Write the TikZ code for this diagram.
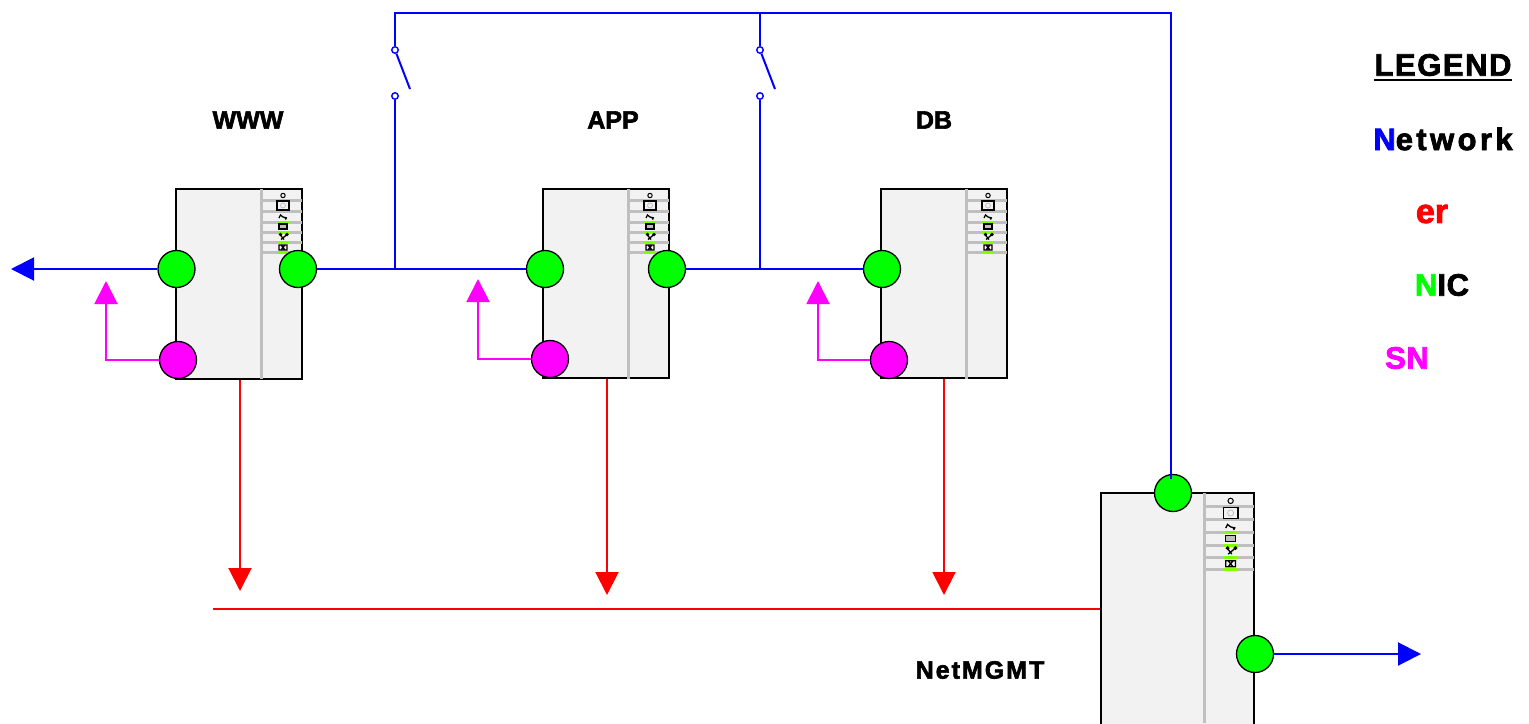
\documentclass[tikz,border=0pt]{standalone}
\usepackage{fontspec}
\newfontfamily\lblfont[FakeBold=2.4]{Liberation Sans Bold}
\usepackage{tikz}
\usetikzlibrary{arrows.meta}
\definecolor{nicgreen}{RGB}{0,255,0}
\definecolor{ledgreen}{RGB}{128,255,0}
\definecolor{snmagenta}{RGB}{255,0,255}
\definecolor{panelgray}{RGB}{191,191,191}
\definecolor{boxgray}{RGB}{242,242,242}
\tikzset{
	x=1pt, y=-1pt, % One unit is one pixel of the picture
	>={Triangle[length=23pt,width=23pt]}, % Thick arrow tips
	srv/.style={draw, line width=1.5pt, fill=boxgray, anchor=north west, inner sep=0pt},
	nic/.style={circle, draw, line width=1.3pt, fill=nicgreen, minimum size=37pt, inner sep=0pt},
	sn/.style={nic, fill=snmagenta},
	contact/.style={circle, draw=blue, line width=1.4pt, fill=white, minimum size=6.5pt, inner sep=0pt},
	netline/.style={blue, line width=2pt},
	mgmtline/.style={red, line width=2pt},
	snline/.style={snmagenta, line width=2pt},
	lbl/.style={font=\lblfont\fontsize{25}{25}\selectfont, inner sep=0pt},
	legend/.style={font=\lblfont\fontsize{31}{31}\selectfont, inner sep=0pt},
	ledbar/.style={ledgreen, line width=3pt},
	% Front panel of a server, drawn from the top of its divider
	srvpanel/.pic={
		\draw[panelgray, line width=3pt] (0,0) -- (0,190);
		\foreach \rowy in {11,22,33,43,53,63}
			\draw[panelgray, line width=3pt] (1,\rowy) -- (41,\rowy);
		\foreach \rowy in {33,43,53,63}
			\draw[ledbar] (15.5,\rowy) -- (27.5,\rowy);
		\draw[line width=1pt] (22,6.5) circle (2.2);
		\draw[line width=1.4pt] (16,12) rectangle (28,21);
		\draw[panelgray, line width=.8pt] (22,16.5) circle (2.5);
		\draw[line width=1.3pt] (18,29) -- (19.5,26) -- (22,28) -- (26,29) (24,28.5) -- (25,30.5);
		\draw[line width=1.3pt, fill=panelgray] (18,35) rectangle (26,40);
		\draw[line width=1.3pt] (19,45.5) -- (23,50.5) (26,45.5) -- (20,50.5) (19.5,45.5) circle (1) (26,45.5) circle (1);
		\draw[line width=1.3pt] (18,56) rectangle (26,61) (20,56) -- (24,61) (24,56) -- (20,61);
	}
}

\begin{document}
\begin{tikzpicture}
	\clip (0,0) rectangle (1529,723);
	\node[srv, minimum width=126pt, minimum height=190pt] (wwwBox) at (175.3,188.3) {};
	\node[srv, minimum width=126pt, minimum height=189pt] (appBox) at (542.3,188.3) {};
	\node[srv, minimum width=126pt, minimum height=189pt] (dbBox) at (880.3,188.3) {};
	\node[srv, minimum width=153pt, minimum height=250pt] (mgmtBox) at (1100.3,492.3) {};
	\pic at (261,189) {srvpanel};
	\pic at (628,189) {srvpanel};
	\pic at (966,189) {srvpanel};
	\pic[scale=1.21] at (1204,493) {srvpanel};

	\node[nic] (wwwNicL) at (176.5,269) {};
	\node[nic] (wwwNicR) at (298,269) {};
	\node[sn] (wwwSn) at (178,360) {};
	\node[nic] (appNicL) at (545,269) {};
	\node[nic] (appNicR) at (667,269) {};
	\node[sn] (appSn) at (550,359) {};
	\node[nic] (dbNicL) at (882,269) {};
	\node[sn] (dbSn) at (889,360) {};
	\node[nic] (mgmtNicT) at (1173,493) {};
	\node[nic] (mgmtNicR) at (1255,654) {};

	\node[contact] (swAUp) at (395,50) {};
	\node[contact] (swADown) at (395,96) {};
	\node[contact] (swBUp) at (760,50) {};
	\node[contact] (swBDown) at (760,96) {};

	\coordinate (swAEnd) at (410,89);
	\coordinate (swBEnd) at (775,89);
	\coordinate (busA) at (395,13);
	\coordinate (busB) at (760,13);
	\coordinate (busEnd) at (1171,13);
	\coordinate (mgmtTap) at (1171,479);
	\coordinate (joinA) at (395,269);
	\coordinate (joinB) at (760,269);
	\coordinate (wwwOut) at (11,269);
	\coordinate (mgmtOut) at (1421,654);
	\coordinate (wwwSnTip) at (106,281);
	\coordinate (appSnTip) at (478,279);
	\coordinate (dbSnTip) at (818,281);
	\coordinate (wwwRed) at (240,591);
	\coordinate (appRed) at (607,595);
	\coordinate (dbRed) at (944,595);
	\coordinate (redStart) at (213,609);

	\draw[netline] (swAUp) -- (busA) -- (busEnd) -- (mgmtTap);
	\draw[netline] (busB) -- (swBUp);
	\draw[netline] (swAUp) -- (swAEnd);
	\draw[netline] (swBUp) -- (swBEnd);
	\draw[netline] (swADown) -- (joinA);
	\draw[netline] (swBDown) -- (joinB);
	\draw[netline] (wwwNicR) -- (appNicL);
	\draw[netline] (appNicR) -- (dbNicL);
	\draw[netline, ->] (wwwNicL) -- (wwwOut);
	\draw[netline, ->] (mgmtNicR) -- (mgmtOut);

	\draw[snline, ->] (wwwSn) -| (wwwSnTip);
	\draw[snline, ->] (appSn) -| (appSnTip);
	\draw[snline, ->] (dbSn) -| (dbSnTip);

	\draw[mgmtline, ->] (wwwBox.south -| wwwRed) -- (wwwRed);
	\draw[mgmtline, ->] (appBox.south -| appRed) -- (appRed);
	\draw[mgmtline, ->] (dbBox.south -| dbRed) -- (dbRed);
	\draw[mgmtline] (redStart) -- (redStart -| mgmtBox.west);

	\node[lbl] (wwwLbl) at (248,120) {WWW};
	\node[lbl] (appLbl) at (613,120) {APP};
	\node[lbl] (dbLbl) at (934,120) {DB};
	\node[lbl] (mgmtLbl) at (980,670) {\addfontfeature{LetterSpace=8}NetMGMT};

	\node[legend] (legTitle) at (1443,65) {\addfontfeature{LetterSpace=5}LEGEND};
	\draw[line width=2pt] ([yshift=-3.5pt]legTitle.south west) -- ([yshift=-3.5pt]legTitle.south east);
	\node[legend] (legNet) at (1443,139) {\addfontfeature{LetterSpace=11}\textcolor{blue}{N}etwork};
	\node[legend, red, font=\lblfont\fontsize{34}{34}\selectfont] (legEr) at (1432,214) {er};
	\node[legend] (legNic) at (1442,285) {\addfontfeature{LetterSpace=2}\textcolor{nicgreen}{N}IC};
	\node[legend, snmagenta] (legSn) at (1407,358) {\addfontfeature{LetterSpace=2}SN};
\end{tikzpicture}
\end{document}
